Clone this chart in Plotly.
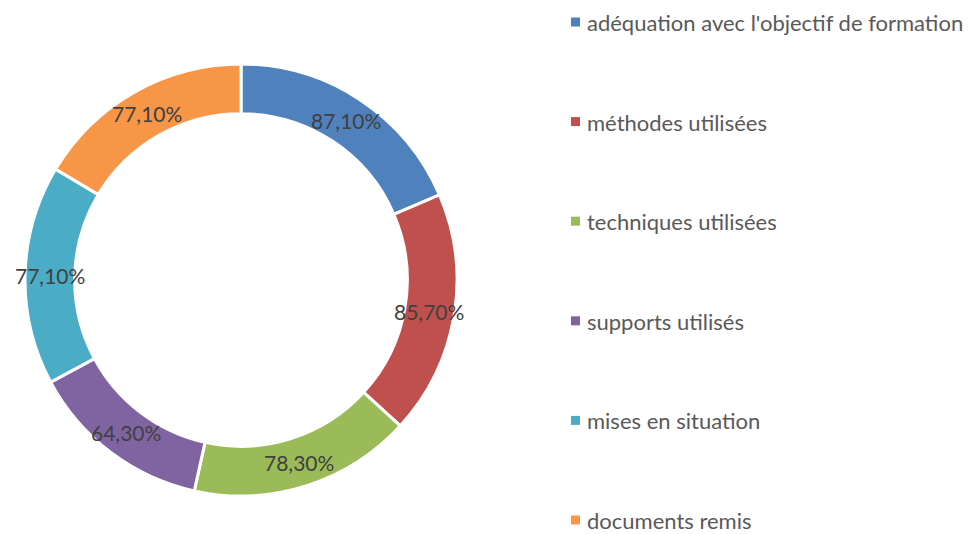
import plotly.graph_objects as go
import math

categories = ["adéquation avec l'objectif de formation", "méthodes utilisées",
              "techniques utilisées", "supports utilisés", "mises en situation",
              "documents remis"]
values = [87.1, 85.7, 78.3, 64.3, 77.1, 77.1]
value_labels = ["87,10%", "85,70%", "78,30%", "64,30%", "77,10%", "77,10%"]
colors = ["#4F81BD", "#C0504D", "#9BBB59", "#8064A2", "#4BACC6", "#F79646"]

W, H = 976, 534
cx, cy, R, hole = 241, 280, 216, 0.77

fig = go.Figure()
fig.add_trace(go.Pie(
    labels=categories, values=values, sort=False, direction="clockwise",
    rotation=0, hole=hole, textinfo="none", hoverinfo="label+value",
    marker=dict(colors=colors, line=dict(color="white", width=3)),
    domain=dict(x=[(cx - R) / W, (cx + R) / W], y=[(H - cy - R) / H, (H - cy + R) / H]),
    showlegend=False,
))

total = sum(values)
rmid = R * (1 + hole) / 2
cum = 0
annotations = []
for v, lab in zip(values, value_labels):
    mid = (cum + v / 2) / total * 2 * math.pi
    cum += v
    px = cx + rmid * math.sin(mid)
    py = cy - rmid * math.cos(mid)
    annotations.append(dict(x=px / W, y=1 - py / H, xref="paper", yref="paper",
                            text=lab, showarrow=False, xanchor="center", yanchor="middle",
                            font=dict(family="Lato", size=21, color="#404040")))

shapes = []
leg_y0, leg_dy = 22, 99.6
for i, (c, name) in enumerate(zip(colors, categories)):
    y = leg_y0 + i * leg_dy
    shapes.append(dict(type="rect", xref="paper", yref="paper",
                       x0=571 / W, x1=580 / W, y0=1 - (y + 4.5) / H, y1=1 - (y - 4.5) / H,
                       fillcolor=c, line=dict(width=0)))
    annotations.append(dict(x=586 / W, y=1 - y / H, xref="paper", yref="paper",
                            text=name, showarrow=False, xanchor="left", yanchor="middle",
                            height=26, borderpad=0, valign="middle",
                            font=dict(family="Lato", size=22, color="#595959")))

fig.update_layout(width=W, height=H, margin=dict(l=0, r=0, t=0, b=0),
                  paper_bgcolor="white", plot_bgcolor="white",
                  annotations=annotations, shapes=shapes)
fig.write_html("out.html", config={"displayModeBar": False},
               post_script="document.body.style.margin='0';document.body.style.overflow='hidden';")
